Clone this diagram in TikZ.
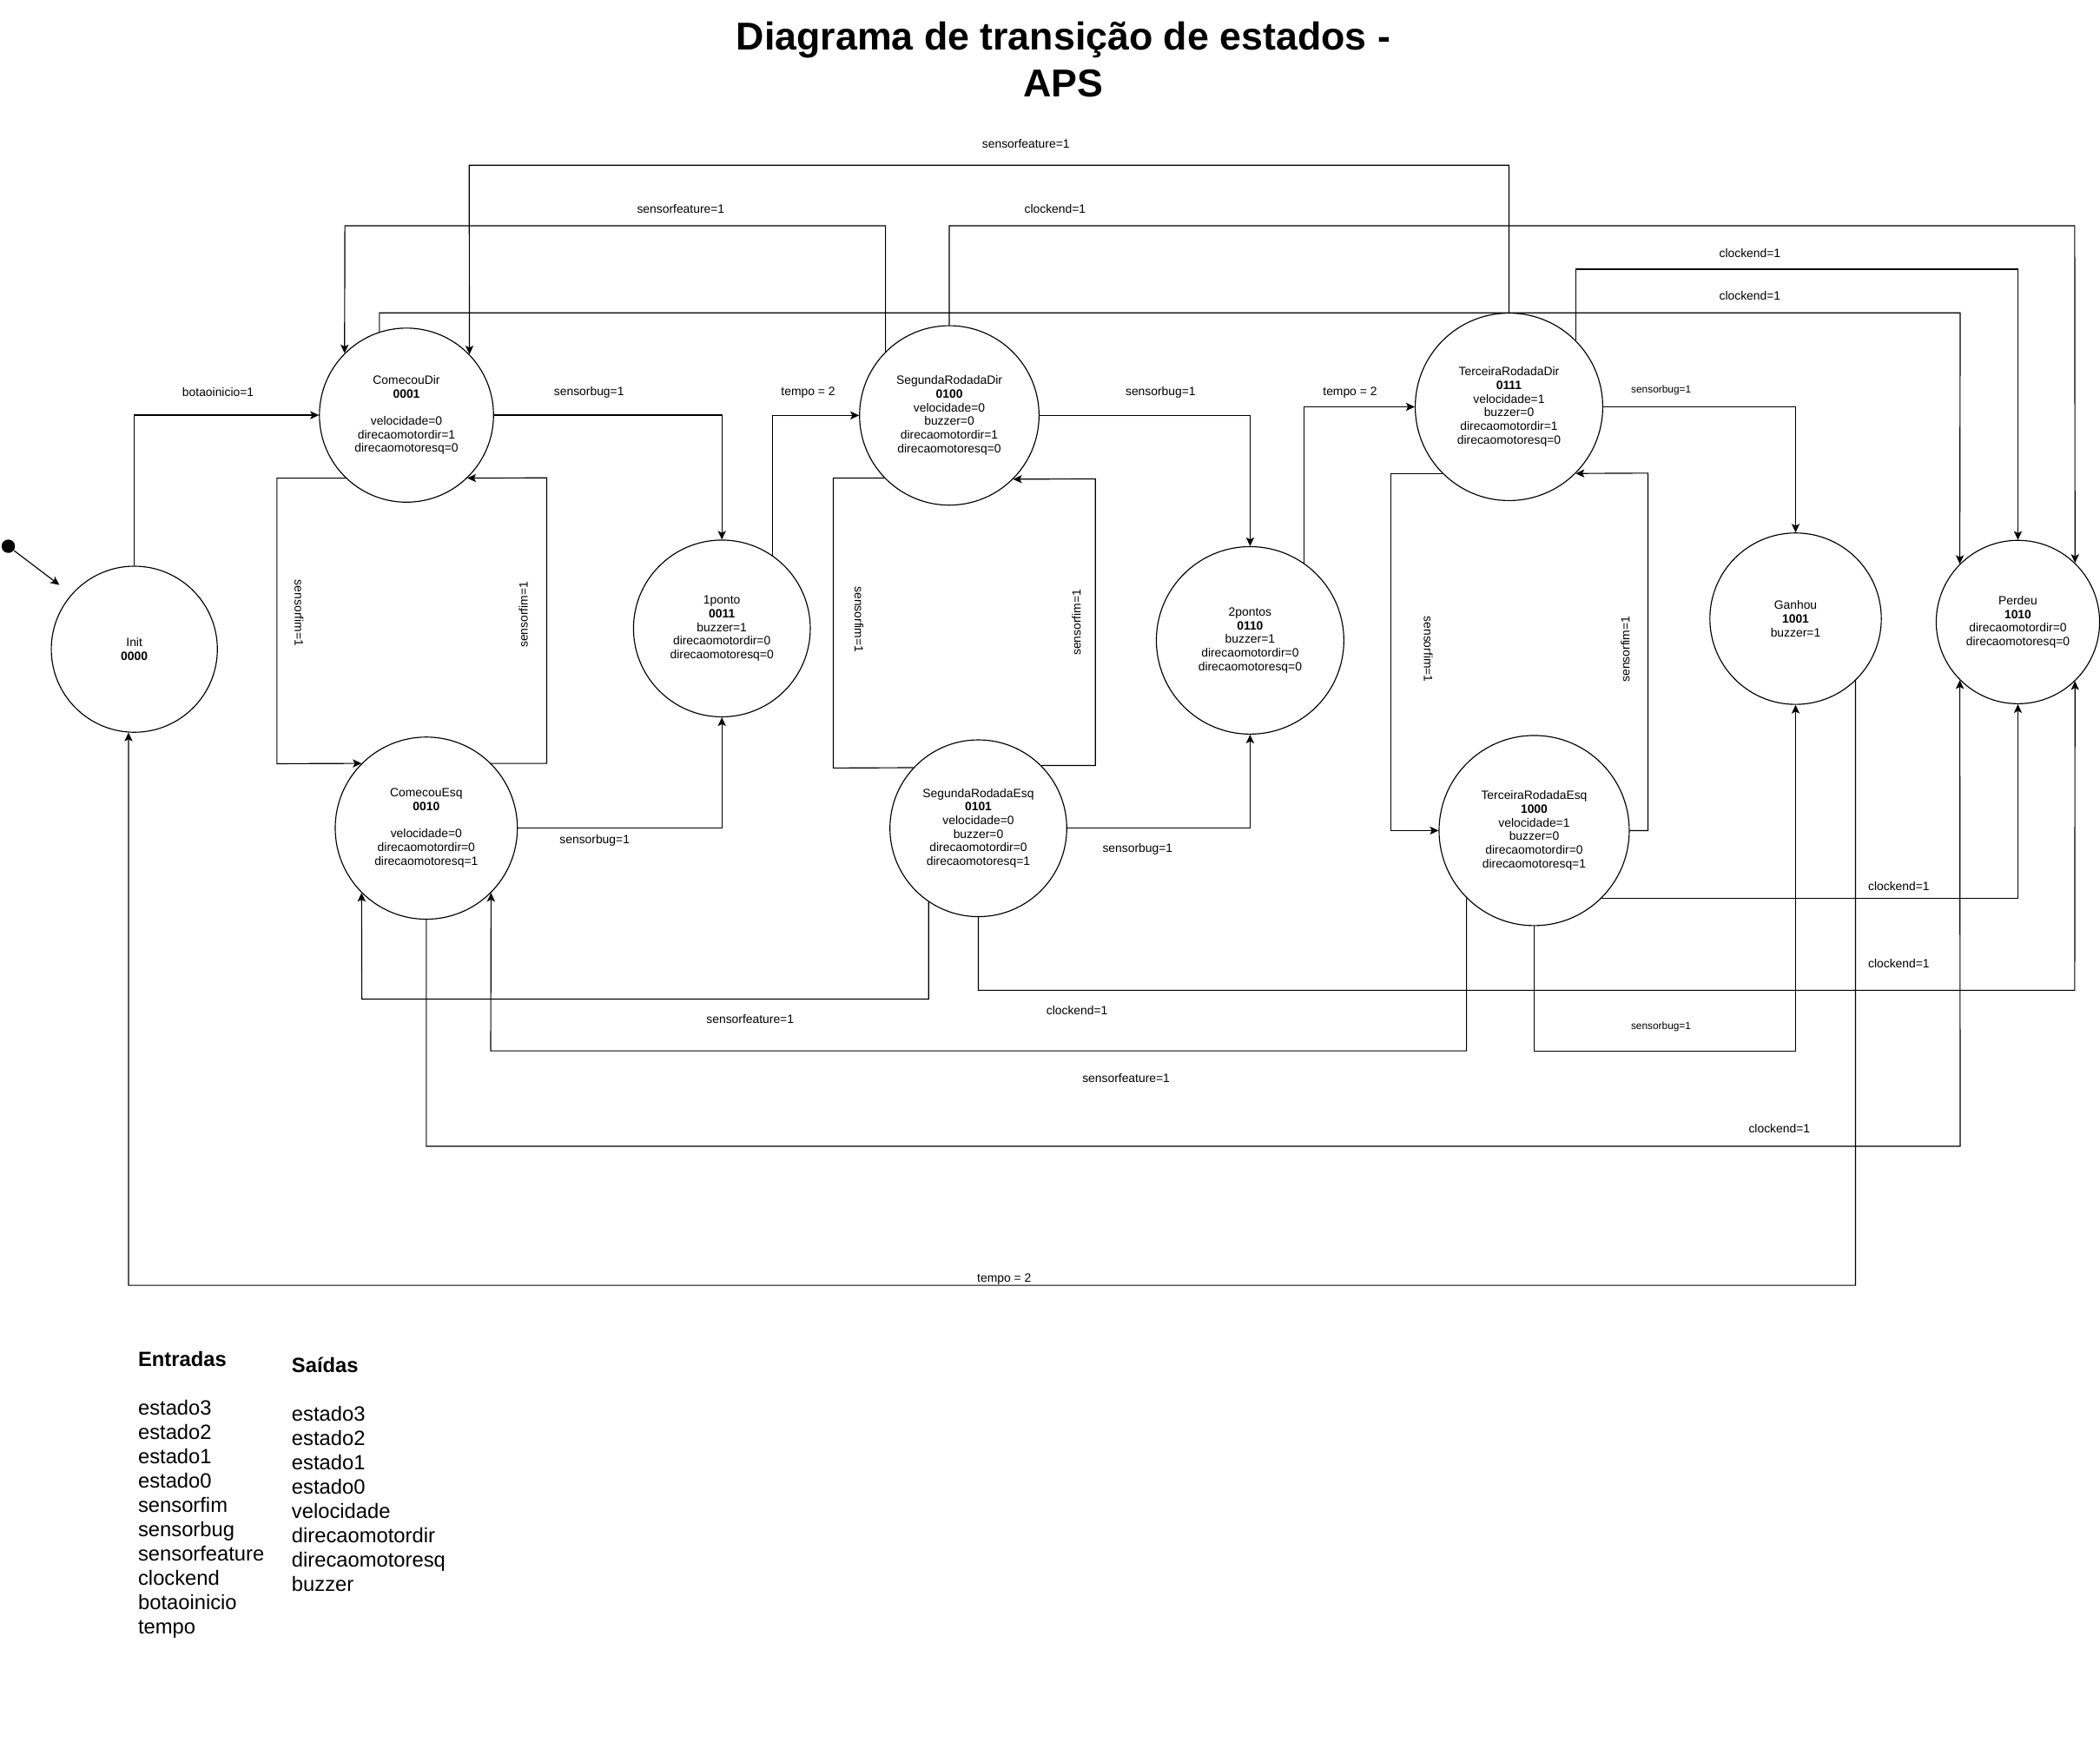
\documentclass[tikz,border=0pt]{standalone}
\usepackage{fontspec}
\setmainfont{Liberation Sans}
\usetikzlibrary{positioning,arrows.meta}

\begin{document}
\begin{tikzpicture}[
  x=1pt, y=-1pt, line width=.75pt,
  state/.style={draw, circle, inner sep=0pt, align=center, font=\fontsize{9}{10.2}\selectfont},
  lbl/.style={inner sep=0pt, font=\fontsize{9}{10.2}\selectfont},
  lblsmall/.style={inner sep=0pt, font=\fontsize{7.7}{9}\selectfont},
  arr/.style={-{Stealth[length=6.5pt,width=6pt,inset=1.5pt]}},
  legendtext/.style={inner sep=0pt, align=left, anchor=north west, font=\fontsize{15.4}{18.15}\selectfont}
]
  \useasboundingbox (0,0) rectangle (1568,1310);

  \node[font=\fontsize{29}{35}\selectfont\bfseries, align=center, inner sep=0pt] (title) at (794,44.3)
    {Diagrama de transição de estados -\\APS};

  % states
  \node[state, minimum size=124pt] (init) at (100.3,484.8) {Init\\\textbf{0000}};
  \node[state, minimum size=130pt] (comecouDir) at (303.5,310)
    {ComecouDir\\\textbf{0001}\\[10.2pt]velocidade=0\\direcaomotordir=1\\direcaomotoresq=0};
  \node[state, minimum size=136pt] (comecouEsq) at (318.3,618.4)
    {ComecouEsq\\\textbf{0010}\\[10.2pt]velocidade=0\\direcaomotordir=0\\direcaomotoresq=1};
  \node[state, minimum size=132pt] (umPonto) at (539,469.3)
    {1ponto\\\textbf{0011}\\buzzer=1\\direcaomotordir=0\\direcaomotoresq=0};
  \node[state, minimum size=134pt] (segDir) at (708.8,310.2)
    {SegundaRodadaDir\\\textbf{0100}\\velocidade=0\\buzzer=0\\direcaomotordir=1\\direcaomotoresq=0};
  \node[state, minimum size=132pt] (segEsq) at (730.5,618.5)
    {SegundaRodadaEsq\\\textbf{0101}\\velocidade=0\\buzzer=0\\direcaomotordir=0\\direcaomotoresq=1};
  \node[state, minimum size=140pt] (doisPontos) at (933.4,478.2)
    {2pontos\\\textbf{0110}\\buzzer=1\\direcaomotordir=0\\direcaomotoresq=0};
  \node[state, minimum size=140pt] (terDir) at (1126.7,303.8)
    {TerceiraRodadaDir\\\textbf{0111}\\velocidade=1\\buzzer=0\\direcaomotordir=1\\direcaomotoresq=0};
  \node[state, minimum size=142pt] (terEsq) at (1145.5,620.2)
    {TerceiraRodadaEsq\\\textbf{1000}\\velocidade=1\\buzzer=0\\direcaomotordir=0\\direcaomotoresq=1};
  \node[state, minimum size=128pt] (ganhou) at (1340.7,462) {Ganhou\\\textbf{1001}\\buzzer=1};
  \node[state, minimum size=122pt] (perdeu) at (1506.7,464.5)
    {Perdeu\\\textbf{1010}\\direcaomotordir=0\\direcaomotoresq=0};

  \node[circle, fill, inner sep=0pt, minimum size=10pt] (start) at (6.2,407.9) {};
  \coordinate (startTip) at (44.3,436.8);
  \draw[arr] (start) -- (startTip);

  % forward transitions
  \draw[arr] (init.north) |- (comecouDir.west);
  \draw[arr] (comecouDir.east) -| (umPonto.north);
  \draw[arr] (comecouEsq.east) -| (umPonto.south);
  \draw[arr] (umPonto.55) |- (segDir.west);
  \draw[arr] (segDir.east) -| (doisPontos.north);
  \draw[arr] (segEsq.east) -| (doisPontos.south);
  \draw[arr] (doisPontos.55) |- (terDir.west);
  \draw[arr] (terDir.east) -| (ganhou.north);

  % sensorfim loops
  \draw[arr] (comecouDir.226) -| (206.8,570.3) -- (comecouEsq.135);
  \draw[arr] (comecouEsq.45) -| (408.2,356.8) -- (comecouDir.-46);
  \draw (segDir.224) -| (622.2,573.5) -- (segEsq.137);
  \draw[arr] (segEsq.45) -| (817.9,357.6) -- (segDir.-45);
  \draw[arr] (terDir.225) -| (1038.6,620.2) -- (terEsq.west);
  \draw[arr] (terEsq.east) -| (1230.5,353.3) -- (terDir.-45);

  % upper returns
  \draw[arr] (terDir.north) |- (350.3,123.4) -- (comecouDir.44);
  \draw[arr] (segDir.135) |- (257.5,168.6) -- (comecouDir.135);
  \draw[arr] (segDir.north) |- (1549.1,168.6) -- (perdeu.46);
  \draw[arr] (terDir.45) |- (1506.7,201) -- (perdeu.north);
  \draw[arr] (comecouDir.108) |- (1463.6,233.6) -- (perdeu.135);

  % lower returns
  \draw[arr] (terEsq.-45) -| (perdeu.south);
  \draw[arr] (segEsq.south) |- (1549.1,739.5) -- (perdeu.-46);
  \draw[arr] (segEsq.236) |- (270.2,746) -- (comecouEsq.225);
  \draw[arr] (terEsq.225) |- (366.4,784.7) -- (comecouEsq.-45);
  \draw[arr] (terEsq.south) |- (1340.7,784.7) -- (ganhou.south);
  \draw[arr] (comecouEsq.south) |- (1463.6,856) -- (perdeu.-135);
  \draw[arr] (ganhou.-46) |- (96,959.8) -- (init.-94);

  % labels
  \node[lbl] (l-botao) at (162.8,292.9) {botaoinicio=1};
  \node[lbl] (l-bug1) at (439.8,292.9) {sensorbug=1};
  \node[lbl] (l-tempo1) at (603.4,292.9) {tempo = 2};
  \node[lbl] (l-bug3) at (866.6,292.9) {sensorbug=1};
  \node[lbl] (l-tempo2) at (1008,292.9) {tempo = 2};
  \node[lblsmall] (l-bug5) at (1240.3,291.4) {sensorbug=1};
  \node[lbl] (l-feat1) at (766,107.4) {sensorfeature=1};
  \node[lbl] (l-feat2) at (508.3,156.3) {sensorfeature=1};
  \node[lbl] (l-clock1) at (787.8,156.3) {clockend=1};
  \node[lbl] (l-clock2) at (1306.6,188.9) {clockend=1};
  \node[lbl] (l-clock3) at (1306.6,221.1) {clockend=1};

  \node[lbl, rotate=-90] (l-fim1) at (223.3,457.8) {sensorfim=1};
  \node[lbl, rotate=90] (l-fim2) at (390.8,459) {sensorfim=1};
  \node[lbl, rotate=-90] (l-fim3) at (641.4,462.6) {sensorfim=1};
  \node[lbl, rotate=90] (l-fim4) at (803.7,464.8) {sensorfim=1};
  \node[lbl, rotate=-90] (l-fim5) at (1066.4,484.8) {sensorfim=1};
  \node[lbl, rotate=90] (l-fim6) at (1213.6,484.8) {sensorfim=1};

  \node[lbl] (l-bug2) at (444,627.4) {sensorbug=1};
  \node[lbl] (l-bug4) at (849.4,634) {sensorbug=1};
  \node[lbl] (l-feat3) at (560.1,760.9) {sensorfeature=1};
  \node[lbl] (l-clock4) at (804.2,754.4) {clockend=1};
  \node[lbl] (l-feat4) at (840.8,804.8) {sensorfeature=1};
  \node[lbl] (l-clock5) at (1417.8,661.5) {clockend=1};
  \node[lbl] (l-clock6) at (1417.8,719.8) {clockend=1};
  \node[lblsmall] (l-bug6) at (1240.2,766.7) {sensorbug=1};
  \node[lbl] (l-clock7) at (1328.6,843) {clockend=1};
  \node[lbl] (l-tempo3) at (749.8,955) {tempo = 2};

  % inputs / outputs
  \node[legendtext] (entradas) at (102.8,1008.9)
    {\textbf{Entradas}\\[18.15pt]estado3\\estado2\\estado1\\estado0\\sensorfim\\sensorbug\\sensorfeature\\clockend\\botaoinicio\\tempo};
  \node[legendtext] (saidas) at (217.5,1013.1)
    {\textbf{Saídas}\\[18.15pt]estado3\\estado2\\estado1\\estado0\\velocidade\\direcaomotordir\\direcaomotoresq\\buzzer};
\end{tikzpicture}
\end{document}
